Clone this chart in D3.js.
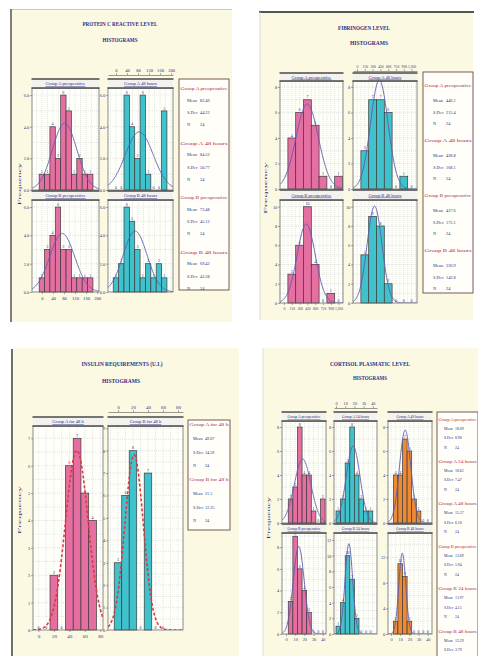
<!DOCTYPE html>
<html>
<head>
<meta charset="utf-8">
<script src="https://cdn.jsdelivr.net/npm/d3@7"></script>
<style>
  body { margin: 0; background: #ffffff; }
  svg { display: block; font-family: "Liberation Serif", "DejaVu Serif", serif; }
</style>
</head>
<body>
<script>
// ---- data: protein C reactive ----
var pcrTicks = [0, 40, 80, 120, 160, 200];
var pcrBinStart = -10, pcrBinWidth = 19.5;
var pcrAPre = [1, 1, 4, 2, 6, 5, 1, 2, 1, 1];
var pcrA48 = [0, 0, 6, 4, 2, 6, 1, 0, 0, 5];
var pcrBPre = [1, 3, 4, 6, 3, 3, 1, 1, 1, 1];
var pcrB48 = [1, 2, 6, 5, 3, 1, 2, 1, 2, 1];
var pcrGroups = ["Group A preoperative", "Group A 48 hours", "Group B preoperative", "Group B 48 hours"];
var pcrMeans = [82.46, 84.52, 73.48, 69.42];
var pcrSDs = [44.22, 50.77, 45.12, 43.38];
var pcrN = [24, 24, 24, 24];

// ---- data: fibrinogen ----
var fibTicks = [0, 150, 300, 450, 600, 750, 900, 1050];
var fibBinStart = 75, fibBinWidth = 150;
var fibAPre = [4, 6, 7, 5, 1, 0, 1];
var fibA48 = [3, 7, 7, 6, 0, 1, 0];
var fibBPre = [3, 6, 10, 4, 0, 1, 0];
var fibB48 = [5, 9, 8, 2, 0, 0, 0];
var fibGroups = ["Group A preoperative", "Group A 48 hours", "Group B preoperative", "Group B 48 hours"];
var fibMeans = [446.1, 428.8, 427.6, 336.9];
var fibSDs = [215.4, 168.1, 175.1, 142.8];
var fibN = [24, 24, 24, 24];

// ---- data: insulin requirements ----
var insTicks = [0, 20, 40, 60, 80];
var insBinStart = -5, insBinWidth = 10;
var insA48 = [0, 0, 2, 0, 6, 7, 5, 4];
var insB48 = [3, 6, 8, 0, 7, 0, 0];
var insGroups = ["Group A for 48 h", "Group B for 48 h"];
var insMeans = [49.67, 21.5];
var insSDs = [14.59, 12.25];
var insN = [24, 24];

// ---- data: cortisol ----
var corTicks = [0, 10, 20, 30, 40];
var corBinWidth = 5;
var corBinStarts = [2.5, 0, 2.5];
var corAPre = [2, 3, 8, 4, 4, 1, 0, 2];
var corA24 = [1, 2, 5, 8, 4, 2, 1, 1];
var corA48 = [4, 4, 7, 6, 2, 1, 0, 0];
var corBPre = [3, 9, 6, 4, 2, 0, 0, 0];
var corB24 = [1, 4, 10, 7, 2, 0, 0, 0];
var corB48 = [2, 11, 9, 2, 0, 0, 0, 0];
var corGroups = ["Group A preoperative", "Group A 24 hours", "Group A 48 hours",
                 "Group B preoperative", "Group B 24 hours", "Group B 48 hours"];
var corMeans = [18.09, 18.62, 15.37, 13.89, 13.97, 12.29];
var corSDs = [8.98, 7.47, 6.18, 5.94, 4.15, 3.79];
var corN = [24, 24, 24, 24, 24, 24];

// ---- styles ----
var navy = "#2c2f88", maroon = "#b3264b";
var pink = "#e56fa1", cyan = "#3fc2cc", orange = "#ee8a34";
var cream = "#fcf9e2";

var svg = d3.select("body").append("svg").attr("width", 478).attr("height", 656);
var defs = svg.append("defs");
var clipCount = 0;

function normalPoints(mean, sd, n, bw, domain) {
  var k = n * bw / (sd * Math.sqrt(2 * Math.PI));
  var step = (domain[1] - domain[0]) / 150;
  return d3.range(domain[0], domain[1] + step / 2, step).map(function(v) {
    return [v, k * Math.exp(-0.5 * Math.pow((v - mean) / sd, 2))];
  });
}

function styleAxis(a, size) {
  a.attr("font-family", null).attr("font-size", null);
  a.selectAll("text").attr("font-size", size).attr("fill", navy);
  a.selectAll("line").attr("stroke", "#555").attr("stroke-width", 0.5);
  a.select(".domain").attr("stroke", "#555").attr("stroke-width", 0.6);
}

function drawPlot(p) {
  var x = d3.scaleLinear().domain(p.domain).range([p.left, p.right]);
  var y = d3.scaleLinear().domain([0, p.yMax]).range([p.bottom, p.top]);
  var g = svg.append("g");
  var id = "clip" + (clipCount++);
  defs.append("clipPath").attr("id", id).append("rect")
    .attr("x", p.left).attr("y", p.top)
    .attr("width", p.right - p.left).attr("height", p.bottom - p.top);

  g.append("rect")
    .attr("x", p.left).attr("y", p.top)
    .attr("width", p.right - p.left).attr("height", p.bottom - p.top)
    .attr("fill", "#fffffa");

  // grid
  var xs = p.xTicks, xstep = xs[1] - xs[0];
  var gridX = d3.range(xs[0] - xstep, xs[xs.length - 1] + xstep * 1.01, xstep / 2)
    .filter(function(v) { return v > p.domain[0] && v < p.domain[1]; });
  var ystep = p.yTicks[1] - p.yTicks[0];
  var gridY = d3.range(ystep / 2, p.yMax, ystep / 2);
  g.selectAll(null).data(gridX).enter().append("line")
    .attr("x1", function(d) { return x(d); }).attr("x2", function(d) { return x(d); })
    .attr("y1", p.top).attr("y2", p.bottom)
    .attr("stroke", "#c9c9c9").attr("stroke-width", 0.5).attr("stroke-dasharray", "1,1");
  g.selectAll(null).data(gridY).enter().append("line")
    .attr("x1", p.left).attr("x2", p.right)
    .attr("y1", function(d) { return y(d); }).attr("y2", function(d) { return y(d); })
    .attr("stroke", "#c9c9c9").attr("stroke-width", 0.5).attr("stroke-dasharray", "1,1");

  // bars
  var bwPx = x(p.start + p.bw) - x(p.start);
  g.selectAll(null).data(p.counts).enter().append("rect")
    .attr("x", function(d, i) { return x(p.start + i * p.bw); })
    .attr("width", bwPx)
    .attr("y", function(d) { return y(d); })
    .attr("height", function(d) { return y(0) - y(d); })
    .attr("fill", p.fill)
    .attr("stroke", "#3b3b3b").attr("stroke-width", 0.7);

  g.selectAll(null).data(p.counts).enter().append("text")
    .attr("x", function(d, i) { return x(p.start + (i + 0.5) * p.bw); })
    .attr("y", function(d) { return y(d) - 1.3; })
    .attr("text-anchor", "middle")
    .attr("font-size", 4)
    .attr("fill", navy)
    .text(function(d) { return d; });

  // fitted normal curve
  var line = d3.line().x(function(d) { return x(d[0]); }).y(function(d) { return y(d[1]); });
  var curve = g.append("path")
    .attr("clip-path", "url(#" + id + ")")
    .attr("d", line(normalPoints(p.mean, p.sd, p.n, p.bw, p.domain)))
    .attr("fill", "none");
  if (p.red) {
    curve.attr("stroke", "#e0383c").attr("stroke-width", 1.6).attr("stroke-dasharray", "3,2");
  } else {
    curve.attr("stroke", "#5b5bb0").attr("stroke-width", 0.9);
  }

  // frame
  g.append("rect")
    .attr("x", p.left).attr("y", p.top)
    .attr("width", p.right - p.left).attr("height", p.bottom - p.top)
    .attr("fill", "none").attr("stroke", "#6e6e6e").attr("stroke-width", 0.8);

  // strip
  g.append("rect")
    .attr("x", p.left).attr("y", p.stripTop)
    .attr("width", p.right - p.left).attr("height", p.top - p.stripTop)
    .attr("fill", "#f3f2ee");
  g.selectAll(null).data([p.stripTop, p.top]).enter().append("line")
    .attr("x1", p.left - 0.5).attr("x2", p.right + 0.5)
    .attr("y1", function(d) { return d; }).attr("y2", function(d) { return d; })
    .attr("stroke", "#4a4a4a").attr("stroke-width", 1.3);
  g.append("text")
    .attr("x", (p.left + p.right) / 2)
    .attr("y", (p.stripTop + p.top) / 2 + 1.6)
    .attr("text-anchor", "middle")
    .attr("font-size", p.stripSize || 4.6)
    .attr("fill", navy)
    .attr("text-decoration", "underline")
    .text(p.title);

  // y axis
  var ya = g.append("g").attr("transform", "translate(" + p.left + ",0)")
    .call(d3.axisLeft(y).tickValues(p.yTicks).tickSize(2).tickPadding(0.8));
  ya.select(".domain").remove();
  styleAxis(ya, 4.3);

  if (p.topAxis) {
    var ta = g.append("g").attr("transform", "translate(0," + p.topAxis + ")")
      .call(d3.axisTop(x).tickValues(p.xTicks).tickSize(2).tickSizeOuter(0).tickPadding(1));
    styleAxis(ta, p.axisSize || 4.6);
  }
  if (p.bottomAxis) {
    var ba = g.append("g").attr("transform", "translate(0," + p.bottom + ")")
      .call(d3.axisBottom(x).tickValues(p.xTicks).tickSize(2).tickSizeOuter(0).tickPadding(2.5));
    ba.select(".domain").remove();
    styleAxis(ba, p.axisSize || 4.6);
  }
}

function drawLegend(box, names, means, sds, ns, lay) {
  svg.append("rect")
    .attr("x", box.x).attr("y", box.y).attr("width", box.w).attr("height", box.h)
    .attr("fill", "#fffef8").attr("stroke", "#6b4a4a").attr("stroke-width", 0.9);
  names.forEach(function(name, i) {
    var y0 = lay.first + i * lay.block;
    svg.append("text")
      .attr("x", box.x + box.w / 2).attr("y", y0)
      .attr("text-anchor", "middle").attr("font-size", lay.size + 0.4)
      .attr("textLength", box.w - 3).attr("lengthAdjust", "spacingAndGlyphs")
      .attr("fill", maroon).text(name);
    [["Mean", means[i]], ["S.Dev", sds[i]], ["N", ns[i]]].forEach(function(row, j) {
      var yy = y0 + lay.offs[j];
      if (yy > 653) return; // the box runs past the page edge
      svg.append("text").attr("x", lay.lx).attr("y", yy)
        .attr("font-size", lay.size).attr("fill", navy).text(row[0]);
      svg.append("text").attr("x", lay.vx).attr("y", yy)
        .attr("font-size", lay.size).attr("fill", navy).text(row[1]);
    });
  });
}

function drawTitle(cx, y, txt, len, size) {
  svg.append("text")
    .attr("x", cx).attr("y", y)
    .attr("text-anchor", "middle")
    .attr("font-weight", "bold")
    .attr("font-size", size)
    .attr("textLength", len).attr("lengthAdjust", "spacingAndGlyphs")
    .attr("fill", navy)
    .text(txt);
}

function drawYLabel(x, y, len) {
  svg.append("text")
    .attr("transform", "translate(" + x + "," + y + ") rotate(-90)")
    .attr("text-anchor", "middle")
    .attr("font-size", 5)
    .attr("textLength", len).attr("lengthAdjust", "spacingAndGlyphs")
    .attr("fill", navy)
    .text("Frequency");
}

// ---- panel backgrounds ----
svg.append("rect").attr("x", 11).attr("y", 9).attr("width", 221).attr("height", 313).attr("fill", cream);
svg.append("line").attr("x1", 11).attr("x2", 232).attr("y1", 9.5).attr("y2", 9.5).attr("stroke", "#bdbdbd").attr("stroke-width", 0.8);
svg.append("line").attr("x1", 11).attr("x2", 11).attr("y1", 9).attr("y2", 322).attr("stroke", "#5e5e5e").attr("stroke-width", 1.6);

svg.append("rect").attr("x", 260).attr("y", 12).attr("width", 213).attr("height", 308).attr("fill", cream);
svg.append("line").attr("x1", 259).attr("x2", 474).attr("y1", 12).attr("y2", 12).attr("stroke", "#1e1e1e").attr("stroke-width", 1.6);
svg.append("line").attr("x1", 260).attr("x2", 260).attr("y1", 12).attr("y2", 320).attr("stroke", "#d5d3c8").attr("stroke-width", 0.8);

svg.append("rect").attr("x", 13).attr("y", 348).attr("width", 226).attr("height", 308).attr("fill", cream);
svg.append("line").attr("x1", 12).attr("x2", 12).attr("y1", 349).attr("y2", 656).attr("stroke", "#707070").attr("stroke-width", 2);

svg.append("rect").attr("x", 263).attr("y", 348).attr("width", 215).attr("height", 308).attr("fill", cream);
svg.append("line").attr("x1", 263).attr("x2", 263).attr("y1", 348).attr("y2", 656).attr("stroke", "#dcdacd").attr("stroke-width", 0.8);

// ---- panel 1: protein C reactive ----
drawTitle(120, 26, "PROTEIN C REACTIVE LEVEL", 75, 7);
drawTitle(120, 41.5, "HISTOGRAMS", 35, 6.5);
drawYLabel(21, 184, 42);
[
  {left: 32, right: 99, stripTop: 79, top: 88, bottom: 190, domain: [-36, 207], yMax: 6.45, counts: pcrAPre, fill: pink, k: 0},
  {left: 108, right: 173, stripTop: 79, top: 88, bottom: 190, domain: [-29, 207], yMax: 6.45, counts: pcrA48, fill: cyan, k: 1, topAxis: 75},
  {left: 32, right: 99, stripTop: 191, top: 200, bottom: 292, domain: [-36, 207], yMax: 6.5, counts: pcrBPre, fill: pink, k: 2, bottomAxis: true},
  {left: 108, right: 173, stripTop: 191, top: 200, bottom: 292, domain: [-29, 207], yMax: 6.5, counts: pcrB48, fill: cyan, k: 3}
].forEach(function(p) {
  p.yTicks = [0, 2, 4, 6]; p.xTicks = pcrTicks;
  p.start = pcrBinStart; p.bw = pcrBinWidth;
  p.mean = pcrMeans[p.k]; p.sd = pcrSDs[p.k]; p.n = pcrN[p.k]; p.title = pcrGroups[p.k];
  drawPlot(p);
});
drawLegend({x: 179, y: 79, w: 50, h: 211}, pcrGroups, pcrMeans, pcrSDs, pcrN,
  {first: 90, block: 54.5, offs: [11.5, 24, 36], lx: 187, vx: 200, size: 4.3});

// ---- panel 2: fibrinogen ----
drawTitle(364, 30, "FIBRINOGEN LEVEL", 52, 7);
drawTitle(369, 45, "HISTOGRAMS", 38, 6.5);
drawYLabel(267, 188, 52);
[
  {left: 280, right: 343, stripTop: 73, top: 81, bottom: 189, domain: [-77, 1135], yMax: 8.47, yTicks: [0, 2, 4, 6, 8], counts: fibAPre, fill: pink, k: 0},
  {left: 353, right: 417, stripTop: 73, top: 81, bottom: 189, domain: [-77, 1154], yMax: 8.47, yTicks: [0, 2, 4, 6, 8], counts: fibA48, fill: cyan, k: 1, topAxis: 71},
  {left: 280, right: 343, stripTop: 190, top: 200, bottom: 303, domain: [-77, 1135], yMax: 10.7, yTicks: [0, 2, 4, 6, 8, 10], counts: fibBPre, fill: pink, k: 2, bottomAxis: true},
  {left: 353, right: 417, stripTop: 190, top: 200, bottom: 303, domain: [-77, 1154], yMax: 10.7, yTicks: [0, 2, 4, 6, 8, 10], counts: fibB48, fill: cyan, k: 3}
].forEach(function(p) {
  p.xTicks = fibTicks; p.axisSize = 3.6;
  p.start = fibBinStart; p.bw = fibBinWidth;
  p.mean = fibMeans[p.k]; p.sd = fibSDs[p.k]; p.n = fibN[p.k]; p.title = fibGroups[p.k];
  drawPlot(p);
});
drawLegend({x: 423, y: 72, w: 50, h: 221}, fibGroups, fibMeans, fibSDs, fibN,
  {first: 86.5, block: 55, offs: [15, 27, 38], lx: 433, vx: 446, size: 4.3});

// ---- panel 3: insulin ----
drawTitle(122, 366, "INSULIN REQUIREMENTS (U.I.)", 81, 7);
drawTitle(121, 383, "HISTOGRAMS", 38, 6.5);
drawYLabel(21, 510, 48);
[
  {left: 33, right: 103, domain: [-7, 83.5], yMax: 7.45, yTicks: [0, 1, 2, 3, 4, 5, 6, 7], counts: insA48, fill: pink, k: 0, bottomAxis: true},
  {left: 108, right: 183, domain: [-13.3, 86.7], yMax: 9.1, yTicks: [0, 1, 2, 3, 4, 5, 6, 7, 8, 9], counts: insB48, fill: cyan, k: 1, topAxis: 412}
].forEach(function(p) {
  p.stripTop = 417; p.top = 426; p.bottom = 630;
  p.xTicks = insTicks; p.axisSize = 5; p.red = true;
  p.start = insBinStart; p.bw = insBinWidth;
  p.mean = insMeans[p.k]; p.sd = insSDs[p.k]; p.n = insN[p.k]; p.title = insGroups[p.k];
  drawPlot(p);
});
drawLegend({x: 188, y: 420, w: 42, h: 110}, insGroups, insMeans, insSDs, insN,
  {first: 425.5, block: 55, offs: [14, 28, 41], lx: 193, vx: 205, size: 4.2});

// ---- panel 4: cortisol ----
drawTitle(370, 366, "CORTISOL PLASMATIC LEVEL", 80, 7);
drawTitle(370, 380, "HISTOGRAMS", 34, 6);
drawYLabel(270, 518, 42);
var corCols = [{left: 282, right: 326, domain: [-4.3, 43.5]},
               {left: 334, right: 377, domain: [-2.2, 44.6]},
               {left: 388, right: 432, domain: [-3.3, 44.6]}];
var corRows = [{stripTop: 412, top: 421, bottom: 523}, {stripTop: 524, top: 533, bottom: 634}];
[
  {c: 0, r: 0, yMax: 8.5, yTicks: [0, 2, 4, 6, 8], counts: corAPre, fill: pink},
  {c: 1, r: 0, yMax: 8.5, yTicks: [0, 2, 4, 6, 8], counts: corA24, fill: cyan, topAxis: 408},
  {c: 2, r: 0, yMax: 8.5, yTicks: [0, 2, 4, 6, 8], counts: corA48, fill: orange},
  {c: 0, r: 1, yMax: 9.3, yTicks: [0, 2, 4, 6, 8], counts: corBPre, fill: pink, bottomAxis: true},
  {c: 1, r: 1, yMax: 12.9, yTicks: [0, 2, 4, 6, 8, 10, 12], counts: corB24, fill: cyan},
  {c: 2, r: 1, yMax: 15.8, yTicks: [0, 4, 8, 12], counts: corB48, fill: orange, bottomAxis: true}
].forEach(function(p, k) {
  var col = corCols[p.c], row = corRows[p.r];
  p.left = col.left; p.right = col.right; p.domain = col.domain;
  p.stripTop = row.stripTop; p.top = row.top; p.bottom = row.bottom;
  p.xTicks = corTicks; p.axisSize = 4.2; p.stripSize = 3.8;
  p.start = corBinStarts[p.c]; p.bw = corBinWidth;
  p.mean = corMeans[k]; p.sd = corSDs[k]; p.n = corN[k]; p.title = corGroups[k];
  drawPlot(p);
});
drawLegend({x: 437, y: 412, w: 41, h: 250}, corGroups, corMeans, corSDs, corN,
  {first: 420.5, block: 42.4, offs: [9, 18.5, 28], lx: 444, vx: 455, size: 3.8});
</script>
</body>
</html>
